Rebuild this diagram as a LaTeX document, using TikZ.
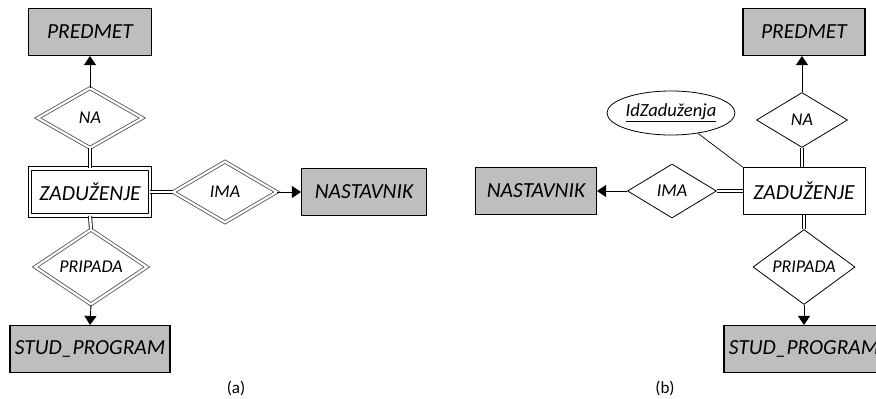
\documentclass[tikz,border=0pt]{standalone}
\usepackage{fontspec}
\setmainfont{Carlito}
\usetikzlibrary{shapes.geometric,arrows.meta}
\definecolor{entgray}{RGB}{190,190,190}
\tikzset{
  er/.style={x=1pt,y=-1pt},
  entity/.style={rectangle,draw=black,line width=1.1pt,fill=entgray,inner sep=0pt,
    font=\fontsize{21.5}{23}\selectfont\itshape},
  weakentity/.style={rectangle,draw=black,fill=white,inner sep=0pt,
    double=white,double distance=2.6pt,line width=0.9pt,
    font=\fontsize{21.5}{23}\selectfont\itshape},
  plainentity/.style={rectangle,draw=black,line width=0.9pt,fill=white,inner sep=0pt,
    font=\fontsize{21.5}{23}\selectfont\itshape},
  idrel/.style={diamond,draw=black!70,line width=0.8pt,double=white,double distance=2.2pt,
    fill=white,inner sep=0pt,font=\fontsize{18}{20}\selectfont\itshape},
  rel/.style={diamond,draw=black,line width=0.8pt,fill=white,inner sep=0pt,
    font=\fontsize{18}{20}\selectfont\itshape},
  attr/.style={ellipse,draw=black,line width=0.8pt,inner sep=0pt,
    font=\fontsize{18.5}{20}\selectfont\itshape},
  dbl/.style={draw=black,line width=0.8pt,double=white,double distance=2.4pt},
  toone/.style={draw=black,line width=0.9pt,-{Triangle[length=9pt,width=12pt]}},
  plainline/.style={draw=black,line width=0.7pt},
  caption/.style={font=\fontsize{17}{19}\selectfont}
}
\begin{document}
\begin{tikzpicture}[er]
\useasboundingbox (0,0) rectangle (876,399);
\clip (0,0) rectangle (876,399);

% ---------- (a) ----------
\node[entity,minimum width=123pt,minimum height=47pt] (pa) at (90,32) {PREDMET};
\node[idrel,minimum width=105pt,minimum height=60pt] (naa) at (90,118) {NA};
\node[weakentity,minimum width=120pt,minimum height=47pt] (za) at (90,192) {ZADUŽENJE};
\node[idrel,minimum width=104pt,minimum height=61pt] (imaa) at (225,192) {IMA};
\node[entity,minimum width=125pt,minimum height=47pt] (nsa) at (364,192) {NASTAVNIK};
\node[idrel,minimum width=112pt,minimum height=58pt] (pra) at (91,267) {PRIPADA};
\node[entity,minimum width=160pt,minimum height=47pt] (spa) at (90,349) {STUD\_PROGRAM};

\draw[toone] (naa.north) -- (pa.south);
\draw[dbl] (naa.south) -- (za.north);
\draw[dbl] (za.east) -- (imaa.west);
\draw[toone] (imaa.east) -- (nsa.west);
\draw[dbl] (za.south) -- (pra.north);
\draw[toone] (pra.south) -- (spa.north);

\node[caption] (capa) at (236,388) {(a)};

% ---------- (b) ----------
\node[entity,minimum width=122pt,minimum height=47pt] (pb) at (804,32) {PREDMET};
\node[rel,minimum width=91pt,minimum height=55pt] (nab) at (802,120) {NA};
\node[attr,minimum width=118pt,minimum height=44pt] (idz) at (671,113) {\underline{IdZaduženja}};
\node[plainentity,minimum width=122pt,minimum height=47pt] (zb) at (804,191) {ZADUŽENJE};
\node[rel,minimum width=89pt,minimum height=54pt] (imab) at (672,191) {IMA};
\node[entity,minimum width=121pt,minimum height=47pt] (nsb) at (536,191) {NASTAVNIK};
\node[rel,minimum width=102pt,minimum height=54pt] (prb) at (804,267) {PRIPADA};
\node[entity,minimum width=160pt,minimum height=47pt] (spb) at (804,349) {STUD\_PROGRAM};

\draw[toone] (nab.north) -- (pb.south -| nab.north);
\draw[dbl] (nab.south) -- (zb.north -| nab.south);
\draw[plainline] (idz) -- (zb.north west);
\draw[dbl] (zb.west) -- (imab.east);
\draw[toone] (imab.west) -- (nsb.east);
\draw[dbl] (zb.south) -- (prb.north);
\draw[toone] (prb.south) -- (spb.north);

\node[caption] (capb) at (665,388) {(b)};
\end{tikzpicture}
\end{document}
